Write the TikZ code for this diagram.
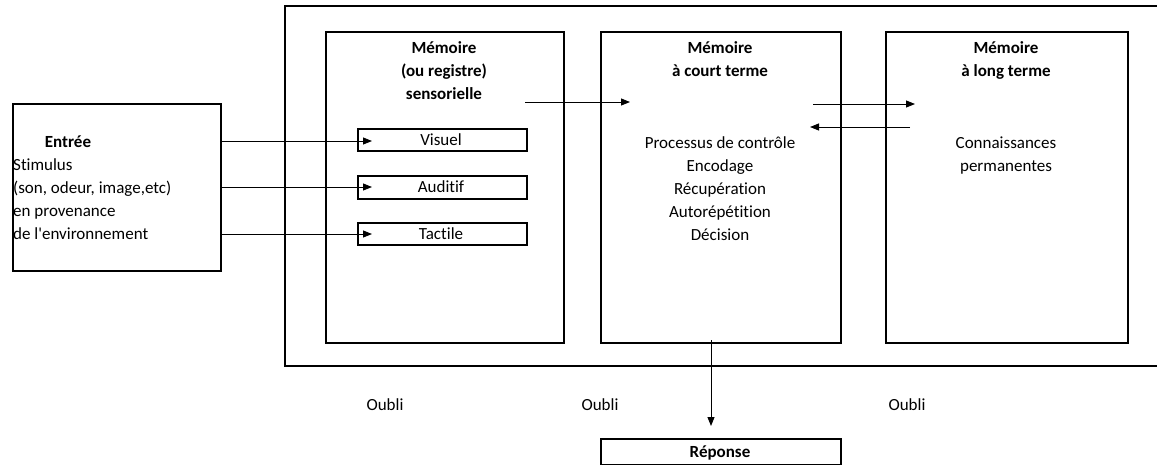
\documentclass[tikz,border=0pt]{standalone}
\usepackage{fontspec}
\setmainfont{Carlito}[Ligatures={NoCommon}]
\usetikzlibrary{arrows.meta}
\begin{document}
\begin{tikzpicture}[x=1pt,y=-1pt,
  box/.style={draw,line width=2.1pt,inner sep=0pt,anchor=north west},
  arr/.style={line width=0.9pt,-{Triangle[length=9pt,width=7pt]}},
  txt/.style={font=\fontsize{17}{20}\selectfont,inner sep=0pt,anchor=base},
  btxt/.style={font=\fontsize{17}{20}\selectfont\bfseries,inner sep=0pt,anchor=base}]
\useasboundingbox (0,0) rectangle (1157,464);
% outer frame (open on the right)
\draw[line width=2.5pt] (1160,6) -- (285,6) -- (285,366) -- (1160,366);
% main boxes
\node[box,minimum width=208pt,minimum height=167pt] (ent) at (12,103) {};
\node[box,minimum width=238pt,minimum height=311pt] (sens) at (325,31) {};
\node[box,minimum width=240pt,minimum height=311pt] (short) at (600,31) {};
\node[box,minimum width=242pt,minimum height=311pt] (long) at (885,31) {};
\node[box,minimum width=169pt,minimum height=22pt] (vis) at (357,128) {};
\node[box,minimum width=169pt,minimum height=23pt] (aud) at (357,175) {};
\node[box,minimum width=169pt,minimum height=22pt] (tac) at (357,222) {};
\node[box,minimum width=240pt,minimum height=26pt] (rep) at (600,438) {};
% texts
\node[btxt] (t1) at (68,147.5) {Entrée};
\node[txt,anchor=base west] (t2) at (13,170.5) {Stimulus};
\node[txt,anchor=base west] (t3) at (13,193.5) {(son, odeur, image,etc)};
\node[txt,anchor=base west] (t4) at (13,216.5) {en provenance};
\node[txt,anchor=base west] (t5) at (13,239.5) {de l\textquotesingle environnement};
\node[btxt] (s1) at (444,53) {Mémoire};
\node[btxt] (s2) at (444,76) {(ou registre)};
\node[btxt] (s3) at (444,99) {sensorielle};
\node[txt] (v1) at (441,145.5) {Visuel};
\node[txt] (a1) at (441,192.5) {Auditif};
\node[txt] (c1) at (441,239.5) {Tactile};
\node[btxt] (m1) at (720,53) {Mémoire};
\node[btxt] (m2) at (720,76) {à court terme};
\node[txt] (m3) at (720,148) {Processus de contrôle};
\node[txt] (m4) at (720,171) {Encodage};
\node[txt] (m5) at (720,194) {Récupération};
\node[txt] (m6) at (720,217) {Autorépétition};
\node[txt] (m7) at (720,240) {Décision};
\node[btxt] (l1) at (1006,53) {Mémoire};
\node[btxt] (l2) at (1006,76) {à long terme};
\node[txt] (l3) at (1006,148) {Connaissances};
\node[txt] (l4) at (1006,171) {permanentes};
\node[txt] (o1) at (385,410.5) {Oubli};
\node[txt] (o2) at (600,410.5) {Oubli};
\node[txt] (o3) at (907,410.5) {Oubli};
\node[btxt] (r1) at (720,457.5) {Réponse};
% connector end points
\coordinate (e1) at (ent.east |- 0,141);
\coordinate (e2) at (ent.east |- 0,187);
\coordinate (e3) at (ent.east |- 0,234);
\coordinate (p1) at (525,102);
\coordinate (p2) at (630,102);
\coordinate (q1) at (813,104);
\coordinate (q2) at (915,104);
\coordinate (q3) at (910,127);
\coordinate (q4) at (810,127);
\coordinate (d1) at (711,340);
\coordinate (d2) at (711,426);
% connectors
\draw[arr] (e1) -- ([xshift=15pt]vis.west |- e1);
\draw[arr] (e2) -- ([xshift=15pt]aud.west |- e2);
\draw[arr] (e3) -- ([xshift=15pt]tac.west |- e3);
\draw[arr] (p1) -- (p2);
\draw[arr] (q1) -- (q2);
\draw[arr] (q3) -- (q4);
\draw[arr] (d1) -- (d2);
\end{tikzpicture}
\end{document}
